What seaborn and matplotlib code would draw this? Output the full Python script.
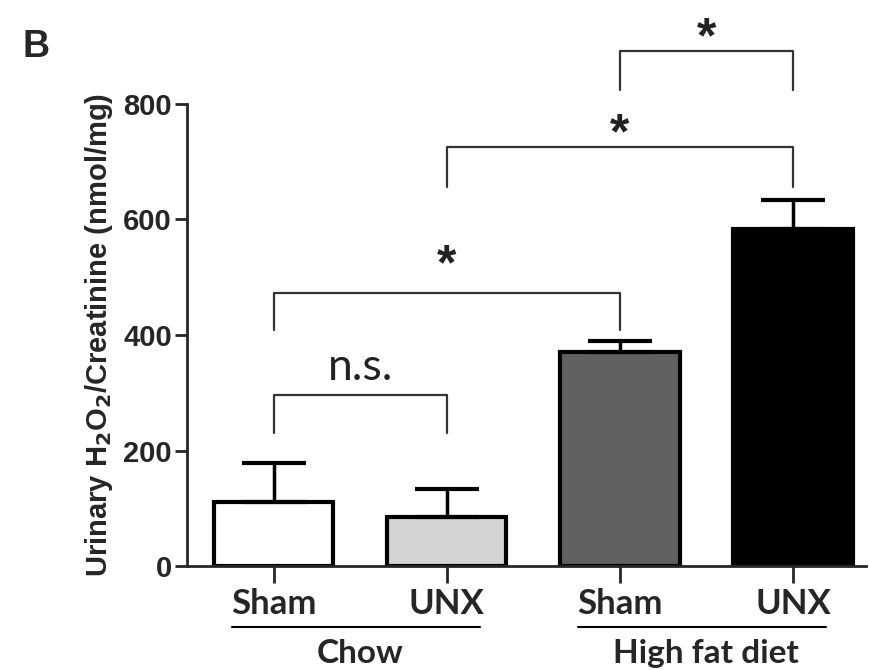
import numpy as np
import pandas as pd
import seaborn as sns
import matplotlib.pyplot as plt

# values
groups = ['Chow Sham', 'Chow UNX', 'HFD Sham', 'HFD UNX']
tick_labels = ['Sham', 'UNX', 'Sham', 'UNX']
diet_labels = ['Chow', 'High fat diet']
means = [111, 85, 370, 583]
errors = [67, 48, 20, 50]
bar_colors = ['#ffffff', '#d4d4d4', '#606060', '#000000']

# significance brackets: (left bar, right bar, bracket height, leg bottom, label, label height)
brackets = [
    (0, 1, 296, 230, 'n.s.', 308),
    (0, 2, 473, 409, '*', 518),
    (1, 3, 725, 656, '*', 746),
    (2, 3, 892, 824, '*', 912),
]

sns.set_style('ticks')
plt.rcParams['font.family'] = ['Liberation Sans', 'DejaVu Sans']

df = pd.DataFrame({'group': groups, 'value': means})

fig = plt.figure(figsize=(8.7, 6.7), dpi=100)
ax = fig.add_axes([0.215, 0.155, 0.78, 0.69])

sns.barplot(data=df, x='group', y='value', hue='group', palette=bar_colors,
            legend=False, width=0.69, edgecolor='black', linewidth=3, ax=ax,
            errorbar=None)

x = np.arange(len(groups))
ax.errorbar(x, means, yerr=[np.zeros(len(errors)), errors], fmt='none',
            ecolor='black', elinewidth=2.5, capsize=23, capthick=3, zorder=1)

ax.set_xlim(-0.5, 3.42)
ax.set_ylim(0, 800)
ax.set_yticks([0, 200, 400, 600, 800])
ax.set_yticklabels(['0', '200', '400', '600', '800'], fontsize=21, fontweight='bold')
ax.set_xticks(x)
ax.set_xticklabels(tick_labels, fontsize=25, fontweight='bold', family=['Lato', 'DejaVu Sans'])
ax.tick_params(axis='y', length=9, width=2, pad=2)
ax.tick_params(axis='x', length=12, width=2, pad=4)
ax.set_xlabel('')
ax.set_ylabel('Urinary H$_\\mathbf{2}$O$_\\mathbf{2}$/Creatinine (nmol/mg)',
              fontsize=21, fontweight='bold', labelpad=6)
for s in ['top', 'right']:
    ax.spines[s].set_visible(False)
for s in ['left', 'bottom']:
    ax.spines[s].set_linewidth(2)

# brackets and labels
for a, b, h, leg, label, ly in brackets:
    ax.plot([a, a, b, b], [leg, h, h, leg], color='#333333', lw=1.6, clip_on=False)
    if label == '*':
        ax.text((a + b) / 2, ly, label, ha='center', va='center',
                fontsize=36, fontweight='bold', color='#222222')
    else:
        ax.text((a + b) / 2, ly, label, ha='center', va='bottom',
                fontsize=32, color='#222222', family=['Lato', 'DejaVu Sans'])

# diet group underlines and labels
trans = ax.get_xaxis_transform()
for i, name in enumerate(diet_labels):
    left, right = 2 * i - 0.24, 2 * i + 1.19
    ax.plot([left, right], [-0.132, -0.132], color='black', lw=1.5,
            transform=trans, clip_on=False)
    ax.text(2 * i + 0.5, -0.19, name, transform=trans, ha='center', va='center',
            fontsize=24, fontweight='bold', family=['Lato', 'DejaVu Sans'])

fig.text(0.041, 0.93, 'B', fontsize=27, fontweight='bold', ha='center', va='center')

fig.savefig('out.png', dpi=100)
